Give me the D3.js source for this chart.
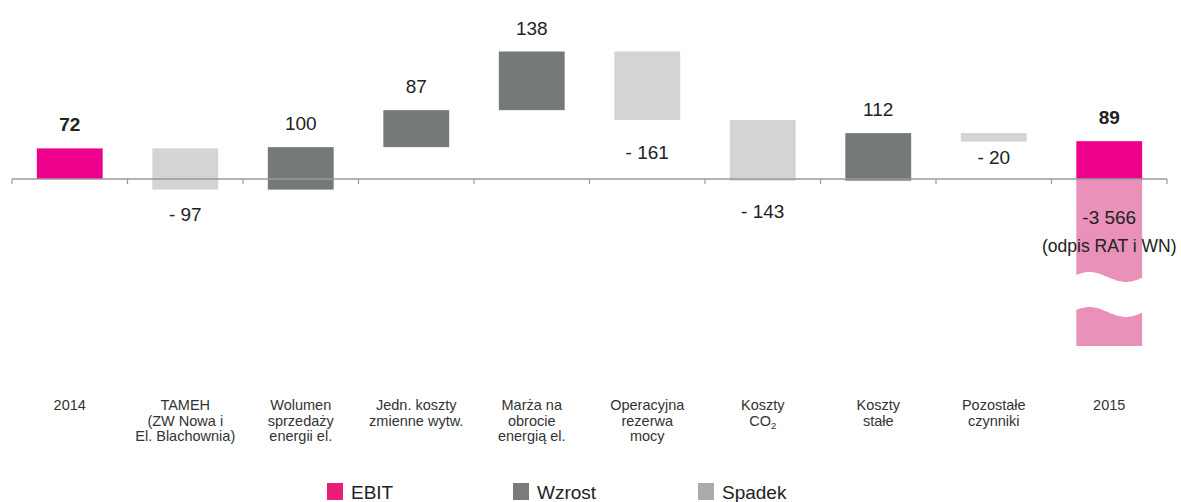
<!DOCTYPE html>
<html>
<head>
<meta charset="utf-8">
<script src="https://cdn.jsdelivr.net/npm/d3@7"></script>
<style>
  body { margin: 0; background: #fff; }
  svg { display: block; font-family: "Liberation Sans", Arial, sans-serif; }
</style>
</head>
<body>
<svg width="1181" height="502"></svg>
<script>
// categories (lines of the axis labels)
const categories = ["2014", "TAMEH", "Wolumen", "Jedn", "Marza", "Operacyjna", "CO2", "Stale", "Pozostale", "2015"];
const labelLines = [
  ["2014"],
  ["TAMEH", "(ZW Nowa i", "El. Blachownia)"],
  ["Wolumen", "sprzedaży", "energii el."],
  ["Jedn. koszty", "zmienne wytw."],
  ["Marża na", "obrocie", "energią el."],
  ["Operacyjna", "rezerwa", "mocy"],
  ["Koszty", "CO2"],
  ["Koszty", "stałe"],
  ["Pozostałe", "czynniki"],
  ["2015"]
];
// change of EBIT for each step (first and last are totals)
const values = [72, -97, 100, 87, 138, -161, -143, 112, -20, 89];
const kinds = ["EBIT", "Spadek", "Wzrost", "Wzrost", "Wzrost", "Spadek", "Spadek", "Wzrost", "Spadek", "EBIT"];
const valueText = ["72", "- 97", "100", "87", "138", "- 161", "- 143", "112", "- 20", "89"];
const writeOff = -3566;
const writeOffText = ["-3 566", "(odpis RAT i WN)"];
const legendNames = ["EBIT", "Wzrost", "Spadek"];

const svg = d3.select("svg"),
  width = +svg.attr("width"),
  height = +svg.attr("height");

const barColor = { EBIT: "#ec008c", Wzrost: "#76797a", Spadek: "#d4d4d4" };
const legendColor = { EBIT: "#e91e79", Wzrost: "#797b7d", Spadek: "#a8aaac" };

const x = d3.scaleBand()
  .domain(categories)
  .range([12, 1167])
  .paddingInner(0.43)
  .paddingOuter(0.215);

const y = d3.scaleLinear()
  .domain([0, 300])
  .range([179, 51.5]);

// waterfall start / end
let run = 0;
const bars = values.map((v, i) => {
  let from, to;
  if (kinds[i] === "EBIT") { from = 0; to = v; run = v; }
  else { from = run; to = run + v; run = to; }
  return { cat: categories[i], v, from, to, kind: kinds[i], text: valueText[i] };
});

// faded write-off part of the last bar, drawn broken
const last = bars[bars.length - 1];
const bx = x(last.cat), bw = x.bandwidth();
const wave = (yy, amp) => {
  const pts = d3.range(0, 1.0001, 0.05).map(t => [bx + t * bw, yy - amp * Math.sin(t * 2 * Math.PI * 0.9 + 0.45)]);
  return pts;
};
const line = d3.line().curve(d3.curveBasis);
const topWave = wave(277, 5);
const botWave = wave(312, 5);
svg.append("path")
  .attr("fill", "#e991b9")
  .attr("d", `M${bx},${y(0)}L${bx + bw},${y(0)}L${bx + bw},${topWave[topWave.length - 1][1]}` +
    line(topWave.slice().reverse()).replace("M", "L") + "Z");
svg.append("path")
  .attr("fill", "#e991b9")
  .attr("d", line(botWave) + `L${bx + bw},346L${bx},346Z`);

// bars
svg.selectAll(".bar")
  .data(bars)
  .join("rect")
  .attr("class", "bar")
  .attr("x", d => x(d.cat))
  .attr("width", x.bandwidth())
  .attr("y", d => y(Math.max(d.from, d.to)))
  .attr("height", d => Math.abs(y(d.from) - y(d.to)))
  .attr("fill", d => barColor[d.kind]);

// axis line with ticks at band edges
const edges = d3.range(categories.length + 1).map(i => 12 + i * x.step());
svg.append("line")
  .attr("x1", 12).attr("x2", 1167)
  .attr("y1", y(0)).attr("y2", y(0))
  .attr("stroke", "#9a9a9a").attr("stroke-width", 1.5);
svg.selectAll(".tick")
  .data(edges)
  .join("line")
  .attr("class", "tick")
  .attr("x1", d => d).attr("x2", d => d)
  .attr("y1", y(0)).attr("y2", y(0) + 5)
  .attr("stroke", "#9a9a9a").attr("stroke-width", 1.2);

// value labels
svg.selectAll(".val")
  .data(bars)
  .join("text")
  .attr("class", "val")
  .attr("x", d => x(d.cat) + x.bandwidth() / 2)
  .attr("y", d => {
    const top = y(Math.max(d.from, d.to)), bot = y(Math.min(d.from, d.to));
    if (d.v >= 0) return top - 17;
    return bot + 20 + 0.28 * (bot - top);
  })
  .attr("text-anchor", "middle")
  .attr("font-size", 19)
  .attr("font-weight", d => d.kind === "EBIT" ? "bold" : "normal")
  .attr("fill", "#222")
  .text(d => d.text);

svg.selectAll(".wo")
  .data(writeOffText)
  .join("text")
  .attr("class", "wo")
  .attr("x", bx + bw / 2)
  .attr("y", (d, i) => 224 + i * 28)
  .attr("text-anchor", "middle")
  .attr("font-size", (d, i) => i ? 17.5 : 19)
  .attr("fill", "#222")
  .text(d => d);

// category labels
const cl = svg.selectAll(".cat")
  .data(categories)
  .join("text")
  .attr("class", "cat")
  .attr("text-anchor", "middle")
  .attr("font-size", 14.5)
  .attr("fill", "#333");
cl.each(function (c, i) {
  const t = d3.select(this);
  labelLines[i].forEach((s, j) => {
    const cx = x(c) + x.bandwidth() / 2;
    if (s === "CO2") {
      const sp = t.append("tspan").attr("x", cx).attr("y", 410 + j * 15.5).text("CO");
      t.append("tspan").attr("font-size", 9.5).attr("dy", 3).text("2");
    } else {
      t.append("tspan").attr("x", cx).attr("y", 410 + j * 15.5).text(s);
    }
  });
});

// legend
const legendX = [327, 513, 698];
const lg = svg.selectAll(".lg")
  .data(legendNames)
  .join("g")
  .attr("class", "lg")
  .attr("transform", (d, i) => `translate(${legendX[i]}, 483)`);
lg.append("rect")
  .attr("width", 16).attr("height", 17)
  .attr("fill", d => legendColor[d]);
lg.append("text")
  .attr("x", 24).attr("y", 16)
  .attr("font-size", 19)
  .attr("fill", "#222")
  .text(d => d);
</script>
</body>
</html>
